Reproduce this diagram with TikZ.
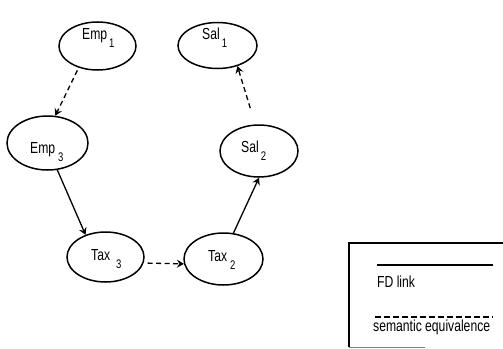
\documentclass[tikz,border=0pt]{standalone}
\usepackage{fontspec}
\setmainfont[FakeStretch=0.76]{Liberation Sans}
\usetikzlibrary{arrows.meta,shapes.geometric}
\newcommand{\sbx}[1]{\raisebox{-8pt}{\fontsize{12.5}{14}\selectfont #1}}
\begin{document}
\begin{tikzpicture}[x=1pt,y=-1pt,
  ell/.style={draw,ellipse,line width=1.5pt,inner sep=0pt},
  lbl/.style={anchor=base west,inner sep=0pt,font=\fontsize{16}{18}\selectfont},
  fd/.style={line width=1.3pt,-{Stealth[length=7pt,width=8pt,inset=2.5pt]}},
  sem/.style={fd,dash pattern=on 5pt off 3.5pt}]
\useasboundingbox (0,0) rectangle (503,348);
\node[ell,minimum width=77pt,minimum height=48pt] (e1) at (97.5,46) {};
\node[ell,minimum width=79pt,minimum height=46pt] (s1) at (217.5,45.5) {};
\node[ell,minimum width=81pt,minimum height=54pt] (e3) at (47.5,143) {};
\node[ell,minimum width=78pt,minimum height=52pt] (s2) at (259,151) {};
\node[ell,minimum width=77pt,minimum height=50pt] (t3) at (105.5,257) {};
\node[ell,minimum width=79pt,minimum height=52pt] (t2) at (223.5,259) {};
\node[lbl] (le1) at (82,39) {Emp\kern2pt\sbx{1}};
\node[lbl] (ls1) at (202,39) {Sal\kern2pt\sbx{1}};
\node[lbl] (le3) at (30,153) {Emp\kern3pt\sbx{3}};
\node[lbl] (ls2) at (241,152) {Sal\kern2pt\sbx{2}};
\node[lbl] (lt3) at (91,260) {Tax\kern6pt\sbx{3}};
\node[lbl] (lt2) at (208,261) {Tax\kern3pt\sbx{2}};
\draw[sem,shorten <=3pt] (e1.229) -- (e3.74);
\draw[fd] (e3.290) -- (t3.132);
\draw[sem,shorten <=4pt] (t3.-9) -- (t2.187);
\draw[fd] (t2.69) -- (s2.270);
\draw[sem,shorten <=17pt] (s2.98) -- (s1.-46);
% legend
\coordinate (ltr) at (503,243);
\coordinate (ltl) at (349,243);
\coordinate (lgbl) at (349,347);
\coordinate (lgbr) at (425,347);
\draw[line width=1.3pt] (ltr) -- (ltl) -- (lgbl);
\draw[line width=0.6pt,gray] (lgbl) -- (lgbr);
\coordinate (fa) at (377,265);
\coordinate (fb) at (493,265);
\draw[line width=1.3pt] (fa) -- (fb);
\node[lbl] (fdt) at (377,287) {FD link};
\coordinate (sa) at (375,317);
\coordinate (sb) at (493,317);
\draw[line width=1.3pt,dash pattern=on 6pt off 3pt] (sa) -- (sb);
\node[lbl] (set) at (373,331) {semantic equivalence};
\end{tikzpicture}
\end{document}
